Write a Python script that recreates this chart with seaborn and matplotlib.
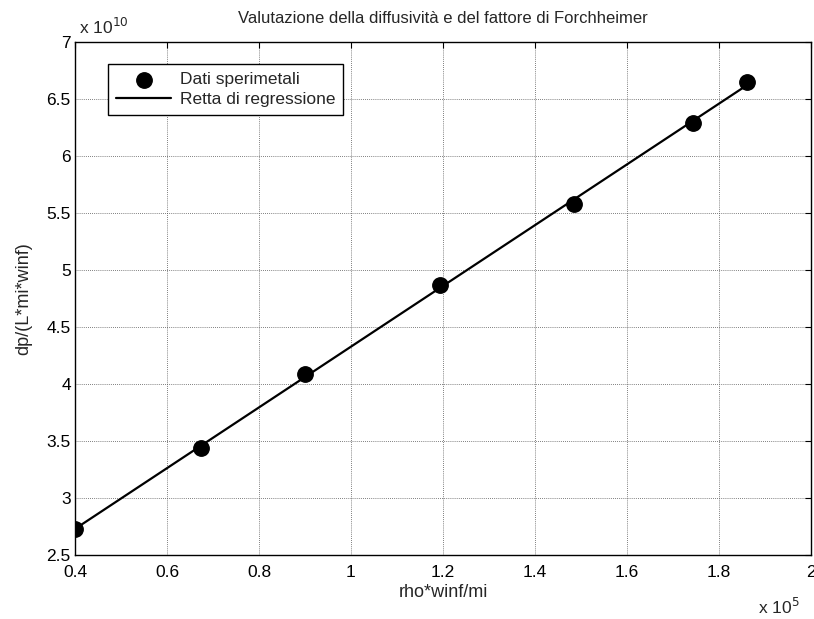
import numpy as np
import pandas as pd
import matplotlib
matplotlib.use("Agg")
import matplotlib.pyplot as plt
import seaborn as sns

sns.set_theme(style="white")
plt.rcParams["font.family"] = ["Liberation Sans", "DejaVu Sans"]

# data (x in units of 1e5, y in units of 1e10)
rho_winf_mi = [0.400, 0.674, 0.900, 1.194, 1.485, 1.744, 1.860]
dp_l_mi_winf = [2.73, 3.435, 4.09, 4.87, 5.58, 6.29, 6.65]

df = pd.DataFrame({"x": rho_winf_mi, "y": dp_l_mi_winf})

# linear regression
slope, intercept = np.polyfit(df["x"], df["y"], 1)
line_x = [min(rho_winf_mi), max(rho_winf_mi)]
line_df = pd.DataFrame({"x": line_x, "y": [slope * v + intercept for v in line_x]})

fig = plt.figure(figsize=(8.14, 6.19), dpi=100)
ax = fig.add_axes([0.0921, 0.1034, 0.9042, 0.8286])

sns.lineplot(data=line_df, x="x", y="y", color="black", linewidth=1.6,
             ax=ax, label="Retta di regressione", zorder=2)
sns.scatterplot(data=df, x="x", y="y", color="black", s=125, edgecolor="black",
                ax=ax, label="Dati sperimetali", zorder=3)

ax.set_xlim(0.4, 2.0)
ax.set_ylim(2.5, 7.0)
ax.set_xticks(np.arange(0.4, 2.01, 0.2))
ax.set_yticks(np.arange(2.5, 7.01, 0.5))
ax.set_xticklabels(["0.4", "0.6", "0.8", "1", "1.2", "1.4", "1.6", "1.8", "2"])
ax.set_yticklabels(["2.5", "3", "3.5", "4", "4.5", "5", "5.5", "6", "6.5", "7"])

ax.grid(True, color="#555555", linestyle=(0, (1, 1.5)), linewidth=0.6)
ax.tick_params(direction="in", length=4, width=0.8, labelsize=12.5,
               top=True, right=True, colors="black", pad=3)
ax.tick_params(axis="x", pad=7)
for sp in ax.spines.values():
    sp.set_color("black")
    sp.set_linewidth(1.0)

ax.set_title("Valutazione della diffusività e del fattore di Forchheimer",
             fontsize=12, pad=14)
ax.set_xlabel("rho*winf/mi", fontsize=13, labelpad=3)
ax.set_ylabel("dp/(L*mi*winf)", fontsize=13, labelpad=10)

# exponent labels like MATLAB
ax.text(0.005, 1.01, r"x 10$^{10}$", transform=ax.transAxes, fontsize=12.5,
        ha="left", va="bottom")
ax.text(0.985, -0.082, r"x 10$^{5}$", transform=ax.transAxes, fontsize=12.5,
        ha="right", va="top")

handles, labels = ax.get_legend_handles_labels()
order = [labels.index("Dati sperimetali"), labels.index("Retta di regressione")]
leg = ax.legend([handles[i] for i in order], [labels[i] for i in order],
                loc="upper left", bbox_to_anchor=(0.045, 0.957), fontsize=12.5,
                frameon=True, fancybox=False, framealpha=1, borderaxespad=0,
                handlelength=3.2, handletextpad=0.5, borderpad=0.45,
                labelspacing=0.3)
leg.get_frame().set_edgecolor("black")
leg.get_frame().set_linewidth(1.0)

fig.savefig("out.png", dpi=100)
